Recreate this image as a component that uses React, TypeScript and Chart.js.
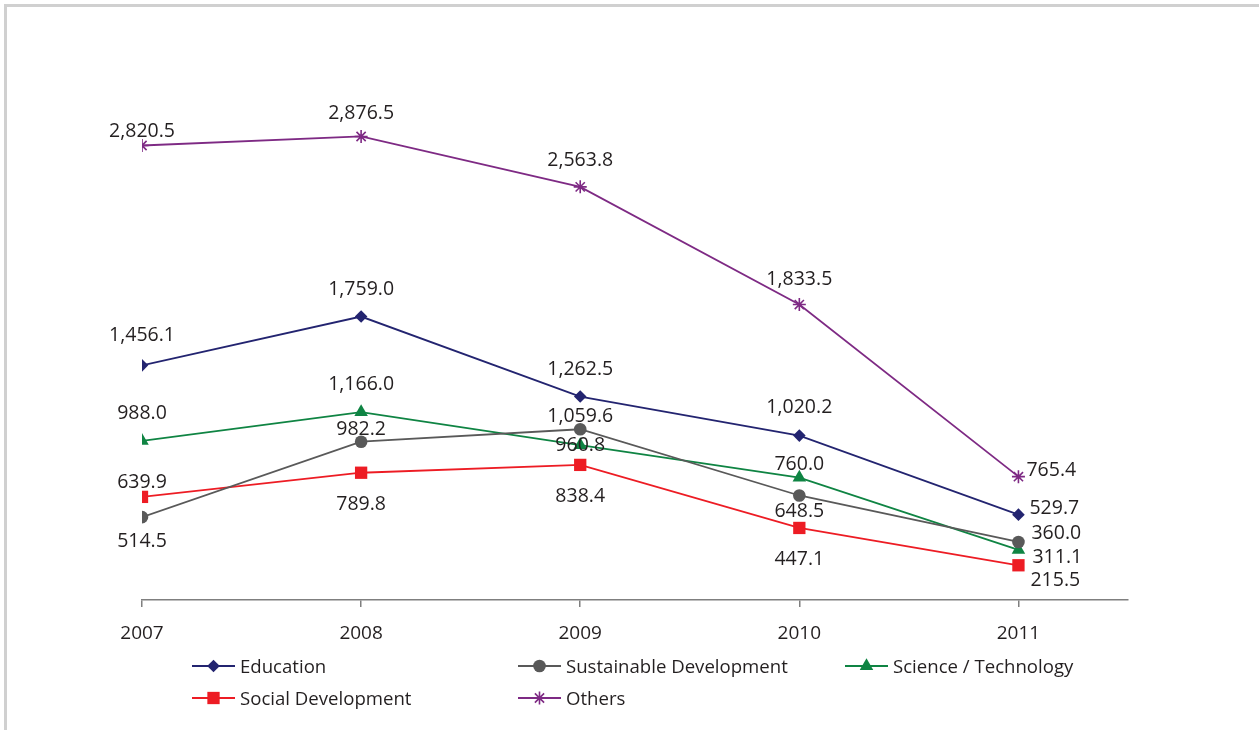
import React, { useEffect, useRef } from 'react';
import { Chart, registerables } from 'chart.js';

Chart.register(...registerables);

// ---- data ----
const years = ['2007', '2008', '2009', '2010', '2011'];
const education = [1456.1, 1759.0, 1262.5, 1020.2, 529.7];
const sustainable = [514.5, 982.2, 1059.6, 648.5, 360.0];
const science = [988.0, 1166.0, 960.8, 760.0, 311.1];
const social = [639.9, 789.8, 838.4, 447.1, 215.5];
const others = [2820.5, 2876.5, 2563.8, 1833.5, 765.4];
const seriesNames = ['Education', 'Sustainable Development', 'Science / Technology', 'Social Development', 'Others'];

// ---- styling (kept apart from data) ----
const colors = ['#232470', '#595959', '#0f8443', '#ed1c24', '#7e2a84'];
const pointStyles = ['rectRot', 'circle', 'triangle', 'rect', 'star'];
const pointRadii = [6.3, 6.3, 7.8, 8.7, 6.5];
// data label placement relative to each point: [dx, dy, align]
const labelPlacement: Array<Array<[number, number, CanvasTextAlign]>> = [
  [[0, -31, 'center'], [0, -29, 'center'], [0, -29, 'center'], [0, -30, 'center'], [11, -8, 'left']],
  [[0, 23, 'center'], [0, -14, 'center'], [0, -14, 'center'], [0, 14, 'center'], [13, -10, 'left']],
  [[0, -29, 'center'], [0, -29, 'center'], [0, -1, 'center'], [0, -15, 'center'], [14, 6, 'left']],
  [[0, -16, 'center'], [0, 30, 'center'], [0, 30, 'center'], [0, 30, 'center'], [12, 14, 'left']],
  [[0, -16, 'center'], [0, -25, 'center'], [0, -28, 'center'], [0, -27, 'center'], [8, -8, 'left']],
];

const FONT = '"Open Sans", "DejaVu Sans", sans-serif';
const TEXT_COLOR = '#231f20';

const fmt = (v: number) =>
  v.toLocaleString('en-US', { minimumFractionDigits: 1, maximumFractionDigits: 1 });

function drawMarker(ctx: CanvasRenderingContext2D, style: string, x: number, y: number, r: number, color: string) {
  ctx.save();
  ctx.fillStyle = color;
  ctx.strokeStyle = color;
  ctx.lineWidth = 1.6;
  ctx.beginPath();
  if (style === 'rectRot') {
    ctx.moveTo(x, y - r); ctx.lineTo(x + r, y); ctx.lineTo(x, y + r); ctx.lineTo(x - r, y); ctx.closePath(); ctx.fill();
  } else if (style === 'circle') {
    ctx.arc(x, y, r, 0, Math.PI * 2); ctx.fill();
  } else if (style === 'triangle') {
    const s = Math.sin(Math.PI / 3) * r;
    ctx.moveTo(x, y - r); ctx.lineTo(x + s, y + r / 2); ctx.lineTo(x - s, y + r / 2); ctx.closePath(); ctx.fill();
  } else if (style === 'rect') {
    const h = Math.SQRT1_2 * r;
    ctx.rect(x - h, y - h, 2 * h, 2 * h); ctx.fill();
  } else if (style === 'star') {
    ctx.moveTo(x, y - r); ctx.lineTo(x, y + r);
    const d = Math.SQRT1_2 * r;
    ctx.moveTo(x - d, y - d); ctx.lineTo(x + d, y + d);
    ctx.moveTo(x - d, y + d); ctx.lineTo(x + d, y - d);
    ctx.moveTo(x - r, y); ctx.lineTo(x + r, y);
    ctx.stroke();
  }
  ctx.restore();
}

const dataLabelPlugin = {
  id: 'dataLabels',
  afterDatasetsDraw(chart: any) {
    const ctx: CanvasRenderingContext2D = chart.ctx;
    ctx.save();
    ctx.font = `19.5px ${FONT}`;
    ctx.fillStyle = TEXT_COLOR;
    ctx.textBaseline = 'middle';
    chart.data.datasets.forEach((ds: any, di: number) => {
      const meta = chart.getDatasetMeta(di);
      meta.data.forEach((pt: any, i: number) => {
        const [dx, dy, align] = labelPlacement[di][i];
        ctx.textAlign = align;
        ctx.fillText(fmt(ds.data[i].y), pt.x + dx, pt.y + dy + 1.5);
      });
    });
    ctx.restore();
  },
};

const legendPlugin = {
  id: 'gridLegend',
  afterDraw(chart: any) {
    const ctx: CanvasRenderingContext2D = chart.ctx;
    const cols = [192, 518, 845];
    const rows = [666, 698];
    const lineLen = 43;
    ctx.save();
    ctx.font = `18.6px ${FONT}`;
    ctx.textBaseline = 'middle';
    ctx.textAlign = 'left';
    chart.data.datasets.forEach((ds: any, i: number) => {
      const x = cols[i % 3];
      const y = rows[Math.floor(i / 3)];
      ctx.strokeStyle = ds.borderColor;
      ctx.lineWidth = 2;
      ctx.beginPath();
      ctx.moveTo(x, y);
      ctx.lineTo(x + lineLen, y);
      ctx.stroke();
      drawMarker(ctx, ds.pointStyle, x + lineLen / 2, y, ds.pointRadius, ds.borderColor);
      ctx.fillStyle = TEXT_COLOR;
      ctx.fillText(ds.label, x + lineLen + 5, y + 1.5);
    });
    ctx.restore();
  },
};

export default function App() {
  const canvasRef = useRef<HTMLCanvasElement | null>(null);

  useEffect(() => {
    if (!canvasRef.current) return;
    const series = [education, sustainable, science, social, others];
    const chart = new Chart(canvasRef.current, {
      type: 'line',
      data: {
        datasets: series.map((vals, i) => ({
          label: seriesNames[i],
          data: vals.map((v, j) => ({ x: j, y: v })),
          borderColor: colors[i],
          backgroundColor: colors[i],
          pointBackgroundColor: colors[i],
          pointBorderColor: colors[i],
          pointBorderWidth: i === 4 ? 1.6 : 0,
          pointStyle: pointStyles[i] as any,
          pointRadius: pointRadii[i],
          borderWidth: 1.8,
          tension: 0,
          fill: false,
        })),
      },
      options: {
        responsive: false,
        animation: false,
        events: [],
        layout: { padding: { left: 142, right: 131, top: 36, bottom: 0 } },
        plugins: {
          legend: { display: false },
          tooltip: { enabled: false },
          title: { display: false },
        },
        scales: {
          x: {
            type: 'linear',
            min: 0,
            max: 4.5,
            afterBuildTicks: (scale: any) => {
              scale.ticks = years.map((_, i) => ({ value: i }));
            },
            afterFit: (scale: any) => {
              scale.height = 130;
            },
            ticks: {
              stepSize: 1,
              autoSkip: false,
              maxRotation: 0,
              padding: 15,
              color: TEXT_COLOR,
              font: { family: FONT, size: 19 },
              callback: (v: any) => years[v as number] ?? '',
            },
            grid: {
              drawOnChartArea: false,
              drawTicks: true,
              tickLength: 7,
              color: '#7f7f7f',
              lineWidth: 1.5,
            },
            border: { display: true, color: '#7f7f7f', width: 1.5 },
          },
          y: {
            display: false,
            min: 0,
            max: 3500,
          },
        },
      } as any,
      plugins: [dataLabelPlugin, legendPlugin],
    });
    return () => chart.destroy();
  }, []);

  return (
    <div style={{ position: 'fixed', left: 0, top: 0, width: 1259, height: 730, overflow: 'hidden', background: '#ffffff' }}>
      <div
        style={{
          position: 'absolute',
          left: 4,
          top: 4,
          width: 1300,
          height: 800,
          borderTop: '3px solid #d0d0d0',
          borderLeft: '3px solid #d0d0d0',
        }}
      />
      <canvas ref={canvasRef} width={1259} height={730} style={{ position: 'absolute', left: 0, top: 0 }} />
    </div>
  );
}
